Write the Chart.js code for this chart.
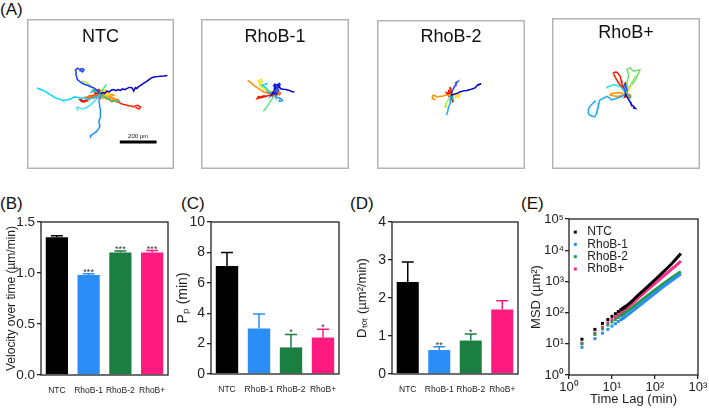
<!DOCTYPE html>
<html>
<head>
<meta charset="utf-8">
<script src="https://cdn.jsdelivr.net/npm/chart.js@4/dist/chart.umd.min.js"></script>
<style>
  body { margin: 0; background: #fff; width: 709px; height: 408px; position: relative; overflow: hidden;
         font-family: "Liberation Sans", Arial, sans-serif; }
  canvas { position: absolute; }
  .lbl { position: absolute; font-size: 17px; line-height: 1; color: #111; }
</style>
</head>
<body>
<div class="lbl" style="left:0;top:1px">(A)</div>
<div class="lbl" style="left:0;top:195px">(B)</div>
<div class="lbl" style="left:181px;top:195px">(C)</div>
<div class="lbl" style="left:350px;top:195px">(D)</div>
<div class="lbl" style="left:521px;top:195px">(E)</div>

<canvas id="ntc" width="147" height="150" style="left:27px;top:19px"></canvas>
<canvas id="rhob1" width="148" height="150" style="left:201px;top:19px"></canvas>
<canvas id="rhob2" width="148" height="149" style="left:377px;top:20px"></canvas>
<canvas id="rhobp" width="148" height="151" style="left:552px;top:18px"></canvas>

<canvas id="chartB" width="172" height="210" style="left:0;top:195px"></canvas>
<canvas id="chartC" width="172" height="210" style="left:172px;top:195px"></canvas>
<canvas id="chartD" width="178" height="210" style="left:344px;top:195px"></canvas>
<canvas id="chartE" width="187" height="213" style="left:522px;top:195px"></canvas>

<script>
// ---------- data ----------
const groups = ["NTC", "RhoB-1", "RhoB-2", "RhoB+"];

// (B) velocity over time, µm/min
const velocity = [1.35, 0.98, 1.20, 1.20];
const velocityErr = [0.015, 0.013, 0.016, 0.02];
const velocitySig = ["", "***", "***", "***"];

// (C) persistence time, min
const persistence = [7.1, 3.0, 1.75, 2.4];
const persistenceErr = [0.9, 0.95, 0.85, 0.55];
const persistenceSig = ["", "", "*", "*"];

// (D) total diffusion, µm²/min
const diffusion = [2.42, 0.63, 0.88, 1.70];
const diffusionErr = [0.53, 0.09, 0.17, 0.23];
const diffusionSig = ["", "**", "*", ""];

// (E) MSD vs time lag
const lagTimes = [2, 4, 6, 8, 10, 12, 14, 16, 18, 20, 25, 30, 40, 50, 60, 80, 100, 125, 150, 200, 250, 300, 350, 400];
const msdNTC   = [14, 29, 45, 60, 76, 92, 108, 123, 138, 152, 195, 240, 360, 470, 590, 850, 1130, 1500, 1900, 2800, 3800, 5000, 6400, 7900];
const msdRhoB1 = [7.7, 14.6, 22, 29, 37, 44, 52, 59, 66, 73, 92, 111, 152, 195, 238, 325, 415, 530, 645, 870, 1090, 1310, 1520, 1730];
const msdRhoB2 = [10, 20, 30, 40, 50, 60, 70, 80, 89, 98, 122, 146, 200, 255, 310, 420, 530, 670, 810, 1070, 1330, 1580, 1820, 2050];
const msdRhoBp = [10.5, 22, 34, 47, 60, 73, 86, 99, 112, 125, 160, 198, 290, 380, 470, 670, 870, 1130, 1400, 1950, 2550, 3150, 3800, 4500];
const logTicksX = [1, 10, 100, 1000];
const logTicksY = [1, 10, 100, 1000, 10000, 100000];

// (A) cell tracks, µm from start point
const ntcTracks = [
  [[0,0],[12,8],[22,4],[35,16],[48,12],[60,22],[71,24],[84,18],[96,24],[108,20],[120,28],[132,24],[143,29],[156,36],[170,35],[176,26],[181,16],[186,26],[190,35],[198,30],[209,42],[222,50],[236,60],[250,68],[264,79],[278,88],[291,93],[309,95],[327,97],[345,98],[364,101]],
  [[-4,4],[-11,11],[-24,24],[-38,35],[-55,40],[-71,48],[-86,52],[-102,60],[-115,70],[-126,79],[-130,94],[-134,108],[-132,120],[-137,130],[-130,137],[-126,141],[-118,136],[-112,135],[-100,139],[-90,134],[-97,121],[-107,128],[-115,126]],
  [[0,-4],[-10,-9],[-20,-13],[-30,-17],[-38,-20],[-55,-24],[-75,-27],[-92,-22],[-112,-22],[-128,-18],[-145,-16],[-160,-26],[-176,-31],[-190,-33],[-203,-38],[-215,-31],[-225,-27],[-238,-24],[-249,-20],[-262,-10],[-276,-2],[-290,8],[-304,16],[-318,22],[-331,27],[-346,33]],
  [[0,-6],[-2,-20],[-6,-32],[-9,-44],[-4,-58],[-5,-71],[0,-85],[2,-99],[-1,-112],[-2,-126],[-6,-140],[-9,-154],[-4,-168],[-5,-181],[-12,-192],[-20,-203],[-29,-210],[-38,-218],[-46,-222],[-53,-227],[-52,-235],[-57,-242]],
  [[0,-10],[-12,-18],[-25,-30],[-38,-44],[-52,-58],[-71,-71],[-86,-78],[-102,-81],[-115,-76],[-126,-71],[-128,-80],[-121,-90]],
  [[0,0],[-10,14],[-24,10],[-36,18],[-48,12],[-40,24],[-28,20]],
  [[0,-6],[18,-12],[35,-22],[53,-35],[70,-38],[90,-40],[108,-44]],
  [[0,2],[6,12],[16,29],[22,40],[31,53],[26,44],[20,35]],
  [[-10,6],[-30,22],[-57,48],[-70,58],[-84,66],[-94,68],[-102,71]],
  [[0,-2],[-2,-7],[12,-12],[26,-16],[30,-6],[35,2],[24,6]],
  [[0,0],[8,8],[4,16],[12,22],[20,16],[26,24],[34,20]],
  [[0,0],[12,6],[24,2],[34,10],[44,4],[52,-6],[40,-12],[28,-8],[20,-20],[30,-28]],
  [[0,-2],[8,-4],[16,-7],[28,-14],[44,-26],[52,-34],[62,-44],[70,-38],[80,-35],[66,-28],[53,-16],[62,-10],[71,-7],[58,-2],[44,-8]],
  [[0,0],[10,-10],[25,-5],[35,-18],[48,-12],[58,-25],[70,-20],[78,-30],[90,-28],[100,-36],[92,-44],[82,-40]],
  [[0,0],[6,-6],[14,-2],[20,-10],[28,-6],[36,-14],[30,-20],[22,-16],[16,-24],[8,-18],[2,-26],[-6,-20]],
  [[0,0],[-15,-8],[-30,-4],[-45,-12],[-60,-8],[-72,-18],[-62,-24],[-50,-20]],
  [[0,-4],[-20,-14],[-40,-10],[-60,-20],[-80,-18],[-70,-28],[-56,-30]],
  [[0,-8],[15,-12],[22,-20],[35,-26],[50,-28],[58,-38],[71,-35],[85,-40],[99,-44],[110,-52],[126,-57],[140,-60],[154,-64],[168,-66],[181,-71],[192,-64],[203,-62],[210,-68],[218,-71],[214,-78],[209,-82],[200,-76],[190,-75]],
  [[0,-2],[-11,-7],[-22,-12],[-38,-20],[-52,-24],[-71,-31],[-84,-35],[-97,-38],[-104,-30],[-112,-31],[-100,-42],[-90,-44],[-78,-38],[-66,-35]],
  [[0,0],[-6,8],[-14,4],[-18,12],[-28,8],[-34,16],[-26,22],[-18,18],[-10,24],[-4,16],[4,20],[10,12]],
  [[0,0],[-8,-10],[-20,-6],[-30,-14],[-42,-8],[-50,-18],[-38,-22],[-26,-18],[-14,-24],[-4,-14],[8,-18],[18,-10],[28,-16],[22,-4]],
  [[0,0],[-15,4],[-29,2],[-20,10],[-11,11],[2,6],[7,-7],[-6,-12],[-20,-16],[-8,-2],[16,5],[10,-4],[-4,8]]
];
const ntcScaleBar = [[105,-262],[305,-262]];

const rhob1Tracks = [
  [[0,0],[-8,10],[-15,2],[-5,20],[4,38],[-4,44],[-2,53],[8,50],[13,46],[22,38],[31,29],[45,26],[59,24],[68,22],[77,20],[90,14],[104,11]],
  [[0,0],[10,10],[6,26],[-4,32],[2,40],[14,30],[20,20],[12,12]],
  [[0,0],[6,18],[14,30],[20,44],[28,52],[22,58],[14,50],[20,40],[30,36]],
  [[0,4],[-16,8],[-33,11],[-42,24],[-51,35],[-62,42],[-70,48],[-56,52],[-42,57]],
  [[0,-4],[4,-16],[18,-20],[31,-26],[36,-30],[40,-35],[34,-38],[27,-40],[24,-30]],
  [[0,-6],[-8,-14],[-15,-26],[-24,-38],[-33,-53],[-42,-66],[-51,-81],[-58,-88],[-64,-95]],
  [[0,2],[-15,10],[-30,18],[-42,20],[-60,30],[-79,42],[-84,56],[-88,71],[-80,78],[-75,79],[-72,70],[-82,57]],
  [[0,0],[-10,4],[-24,-4],[-36,4],[-48,8],[-60,11],[-74,20],[-86,28],[-97,35],[-110,44],[-124,57],[-136,66],[-148,75]],
  [[0,0],[-20,2],[-35,6],[-25,-2],[-5,-4],[12,4]],
  [[0,0],[-12,-4],[-24,-7],[-40,-10],[-60,-16],[-78,-20],[-97,-26],[-90,-14],[-79,-16],[-60,-10],[-42,-13]],
  [[0,0],[8,-6],[16,2],[24,-4],[30,6],[20,12],[10,6],[2,12],[-8,4],[-14,-8]],
  [[0,0],[-10,-2],[4,-8],[-6,-10],[10,2],[-4,6],[6,-4]]
];

const rhob2Tracks = [
  [[0,0],[4,-4],[18,2],[31,5],[48,14],[68,20],[86,22],[104,27],[118,32],[132,38],[140,48],[150,57],[158,58],[163,60],[152,54],[141,51]],
  [[0,0],[4,15],[10,26],[16,38],[22,50],[27,60],[35,70],[28,66],[22,64]],
  [[0,-6],[-2,-22],[-3,-36],[-5,-49],[-10,-62],[-15,-77],[-18,-95],[-24,-113]],
  [[0,-2],[6,-14],[10,-24],[13,-30]],
  [[0,-4],[-9,-22],[-16,-30],[-24,-40],[-28,-54],[-33,-68],[-26,-66],[-20,-64]],
  [[0,0],[4,-4],[18,-2],[31,-4],[40,0],[49,2],[46,-8],[40,-16],[30,-14],[22,-13]],
  [[0,0],[-15,-4],[-28,-2],[-42,-9],[-56,-10],[-70,-13],[-84,-8],[-97,-4],[-100,-12],[-101,-22],[-92,-26],[-82,-27]],
  [[0,2],[-6,20],[-4,32],[2,18],[6,4]],
  [[0,0],[-4,10],[2,18],[-6,26],[0,34],[-8,40]],
  [[0,0],[-8,14],[-15,24],[-10,14],[-5,5],[0,-8],[4,-22],[8,-30],[13,-40],[4,-26],[-9,-13],[-16,-2],[-24,9],[-10,4]]
];

const rhobpTracks = [
  [[0,0],[-4,-7],[6,-20],[15,-35],[22,-46],[27,-57],[34,-64],[42,-71],[46,-76],[51,-81],[44,-80],[38,-75]],
  [[0,0],[-8,20],[-13,38],[-8,48],[-2,42],[4,24],[8,10]],
  [[0,0],[-10,-8],[-22,-16],[-35,-20],[-49,-26],[-62,-30],[-77,-35],[-90,-24],[-104,-16],[-122,-26],[-141,-35],[-146,-52],[-150,-71],[-156,-90],[-159,-108],[-164,-118],[-168,-126],[-182,-124],[-196,-117],[-202,-108],[-205,-99],[-202,-85],[-196,-71],[-184,-58],[-168,-44],[-172,-40]],
  [[0,4],[-14,18],[-31,38],[-50,44],[-68,48],[-82,42],[-95,38],[-100,34],[-104,29]],
  [[0,0],[15,-10],[24,-20],[20,-30]],
  [[0,0],[-4,11],[0,34],[5,57],[10,80],[15,102],[10,116],[5,130],[15,136],[24,139],[32,128],[42,121],[51,124],[60,126],[68,128],[75,130],[64,102],[51,75],[42,60],[33,48]],
  [[0,4],[10,28],[22,44],[34,62],[42,78],[50,90],[58,98]],
  [[0,0],[8,10],[15,24],[22,38],[26,44]],
  [[0,0],[-13,-7],[-28,-12],[-49,-16],[-68,-12],[-86,-7],[-78,0],[-68,2],[-50,4],[-31,5],[-14,0]],
  [[0,0],[10,-8],[18,-4],[26,-14],[18,-22],[8,-16]],
  [[0,0],[-13,20],[-26,38],[-40,57],[-50,74],[-59,90],[-64,100],[-68,112],[-58,116],[-49,115],[-40,104],[-31,93],[-26,70],[-22,48],[-12,30]],
  [[0,0],[6,10],[-2,18],[4,28],[-4,36],[2,46],[-6,54],[0,62]],
  [[0,0],[-8,-20],[6,-14],[-4,6],[10,-4]]
];

// ---------- styles ----------
Chart.defaults.font.family = '"Liberation Sans", Arial, sans-serif';
Chart.defaults.color = "#222";
Chart.defaults.animation = false;

const barColors = ["#000000", "#2a8df8", "#1a7f41", "#ff1a7f"];
const ntcColors = ["#0000c8", "#1f3fff", "#00d8ff", "#1e8fff", "#40e0ff", "#20c0a0", "#20c0a0", "#40f080", "#a8e84a", "#ffd800", "#ffe000", "#ffc000", "#ff9a00", "#ff8000", "#ffa000", "#ff5a00", "#ff6a00", "#ff2000", "#ee1100", "#e00000", "#ff3000", "#dd0000"];
const rhob1Colors = ["#0000c8", "#2050ff", "#1030e0", "#00d0ff", "#1e90ff", "#5ae87a", "#ffe000", "#ff8c00", "#000090", "#ff1a00", "#ff5000", "#e00000"];
const rhob2Colors = ["#0000c8", "#2040ff", "#18a8ff", "#30c060", "#b0f040", "#ffe000", "#ff9000", "#ff3000", "#ff1000", "#ee0000"];
const rhobpColors = ["#0000cd", "#2050ff", "#1ea8ff", "#20e0e0", "#30b890", "#6ee06e", "#90f060", "#ffd800", "#ff9000", "#ff7000", "#ff1a00", "#ee0000", "#e00000"];

// box + title inside the track panels
const panelFrame = {
  id: "panelFrame",
  afterDraw(chart, args, opts) {
    const { ctx, chartArea: a } = chart;
    ctx.save();
    ctx.strokeStyle = "#b4b4b4";
    ctx.lineWidth = 1.5;
    ctx.strokeRect(a.left + 0.75, a.top + 0.75, a.width - 1.5, a.height - 1.5);
    ctx.fillStyle = "#111";
    ctx.font = '18px "Liberation Sans", Arial, sans-serif';
    ctx.textAlign = "center";
    ctx.fillText(opts.title, (a.left + a.right) / 2, a.top + opts.titleY);
    if (opts.barLabel) {
      const x = chart.scales.x, y = chart.scales.y;
      ctx.font = '6px "Liberation Sans", Arial, sans-serif';
      ctx.fillText(opts.barLabel, x.getPixelForValue(205), y.getPixelForValue(-262) - 4);
    }
    ctx.restore();
  }
};

function trackChart(id, tracks, colors, title, titleY, extra) {
  const datasets = tracks.map((t, i) => ({
    data: t.map(p => ({ x: p[0], y: p[1] })),
    borderColor: colors[i],
    borderWidth: 1.5,
    showLine: true,
    pointRadius: 0,
    tension: 0
  }));
  if (extra && extra.bar) {
    datasets.push({
      data: extra.bar.map(p => ({ x: p[0], y: p[1] })),
      borderColor: "#000", borderWidth: 3, showLine: true, pointRadius: 0
    });
  }
  return new Chart(document.getElementById(id), {
    type: "scatter",
    data: { datasets },
    options: {
      responsive: false,
      layout: { padding: 0 },
      plugins: {
        legend: { display: false },
        tooltip: { enabled: false },
        panelFrame: { title, titleY, barLabel: extra && extra.bar ? "200 µm" : null }
      },
      scales: {
        x: { display: false, min: -400, max: 400 },
        y: { display: false, min: -410, max: 410 }
      }
    },
    plugins: [panelFrame]
  });
}

trackChart("ntc", ntcTracks, ntcColors, "NTC", 23, { bar: ntcScaleBar });
trackChart("rhob1", rhob1Tracks, rhob1Colors, "RhoB-1", 23);
trackChart("rhob2", rhob2Tracks, rhob2Colors, "RhoB-2", 22);
trackChart("rhobp", rhobpTracks, rhobpColors, "RhoB+", 20);

// full box around the plot area
const frame = {
  id: "frame",
  afterDraw(chart) {
    const { ctx, chartArea: a } = chart;
    ctx.save();
    ctx.strokeStyle = "#222";
    ctx.lineWidth = 1.3;
    ctx.strokeRect(a.left, a.top, a.width, a.height);
    ctx.restore();
  }
};

// upward error bars + significance stars
const errorBars = {
  id: "errorBars",
  afterDatasetsDraw(chart, args, opts) {
    const { ctx } = chart;
    const meta = chart.getDatasetMeta(0);
    const ys = chart.scales.y;
    const values = chart.data.datasets[0].data;
    meta.data.forEach((bar, i) => {
      const top = ys.getPixelForValue(values[i]);
      const cap = ys.getPixelForValue(values[i] + opts.errors[i]);
      ctx.save();
      ctx.strokeStyle = barColors[i];
      ctx.lineWidth = 1.5;
      ctx.beginPath();
      ctx.moveTo(bar.x, top);
      ctx.lineTo(bar.x, cap);
      ctx.moveTo(bar.x - 6, cap);
      ctx.lineTo(bar.x + 6, cap);
      ctx.stroke();
      if (opts.stars[i]) {
        ctx.fillStyle = "#333";
        ctx.font = '9px "Liberation Sans", Arial, sans-serif';
        ctx.textAlign = "center";
        ctx.textBaseline = "alphabetic";
        ctx.fillText(opts.stars[i], bar.x, cap + 1);
      }
      ctx.restore();
    });
  }
};

function barChart(id, values, errors, stars, o) {
  return new Chart(document.getElementById(id), {
    type: "bar",
    data: {
      labels: groups,
      datasets: [{ data: values, backgroundColor: barColors, categoryPercentage: 1, barPercentage: 0.7 }]
    },
    options: {
      responsive: false,
      layout: { padding: { top: o.padTop, right: o.padRight, left: 0, bottom: 0 } },
      plugins: {
        legend: { display: false },
        tooltip: { enabled: false },
        errorBars: { errors, stars }
      },
      scales: {
        x: {
          grid: { display: false },
          border: { display: false },
          ticks: { font: { size: 8.5 }, padding: 3, maxRotation: 0, autoSkip: false, color: "#222" },
          afterFit: s => { s.height = o.xHeight; }
        },
        y: {
          min: 0, max: o.max,
          ticks: { stepSize: o.step, font: { size: o.tickSize }, padding: 2, color: "#222", callback: o.fmt },
          grid: { drawOnChartArea: false, tickLength: 4, color: "#222", lineWidth: 1.3 },
          border: { display: false },
          title: { display: true, text: o.title, font: { size: o.titleSize }, color: "#222", padding: { top: o.titlePad, bottom: 0 } },
          afterFit: s => { s.width = o.yWidth; }
        }
      }
    },
    plugins: [errorBars, frame]
  });
}

barChart("chartB", velocity, velocityErr, velocitySig, {
  padTop: 27, padRight: 4, xHeight: 30, yWidth: 41, max: 1.5, step: 0.5, tickSize: 13.5,
  fmt: v => v.toFixed(1), title: "Velocity over time (µm/min)", titleSize: 12, titlePad: 4.8
});
barChart("chartC", persistence, persistenceErr, persistenceSig, {
  padTop: 27, padRight: 5, xHeight: 31, yWidth: 39, max: 10, step: 2, tickSize: 14,
  fmt: v => v, title: "Pₚ (min)", titleSize: 14, titlePad: 2.6
});
barChart("chartD", diffusion, diffusionErr, diffusionSig, {
  padTop: 27, padRight: 4, xHeight: 31, yWidth: 48, max: 4, step: 1, tickSize: 14,
  fmt: v => v, title: "Dₜₒₜ (µm²/min)", titleSize: 13, titlePad: 11
});

// ---------- (E) MSD ----------
const sup = ["⁰", "¹", "²", "³", "⁴", "⁵"];
const powerLabel = v => "10" + sup[Math.round(Math.log10(v))];

function msdSet(label, values, color) {
  return {
    label,
    data: lagTimes.map((t, i) => ({ x: t, y: values[i] })),
    backgroundColor: color,
    borderColor: color,
    borderWidth: 3,
    showLine: true,
    pointStyle: "rect",
    pointRadius: ctx => (lagTimes[ctx.dataIndex] <= 20 ? 2.1 : 0),
    pointBorderWidth: 0,
    segment: { borderColor: ctx => (ctx.p0.parsed.x >= 16 ? undefined : "rgba(0,0,0,0)") }
  };
}

new Chart(document.getElementById("chartE"), {
  type: "scatter",
  data: {
    datasets: [
      msdSet("NTC", msdNTC, "#000000"),
      msdSet("RhoB-1", msdRhoB1, "#2a8df8"),
      msdSet("RhoB-2", msdRhoB2, "#1f9a4e"),
      msdSet("RhoB+", msdRhoBp, "#ff2a85")
    ]
  },
  options: {
    responsive: false,
    layout: { padding: { top: 24, right: 11, left: 0, bottom: 0 } },
    plugins: {
      tooltip: { enabled: false },
      legend: {
        position: "chartArea",
        align: "start",
        title: { display: true, text: "", font: { size: 4 }, padding: { top: 26, bottom: 0 } },
        labels: {
          usePointStyle: true, pointStyle: "rect", boxWidth: 12, boxHeight: 3,
          padding: 0.3, font: { size: 12 }, color: "#222"
        }
      }
    },
    scales: {
      x: {
        type: "logarithmic", min: 1, max: 1000,
        afterBuildTicks: s => { s.ticks = logTicksX.map(v => ({ value: v })); },
        ticks: { callback: powerLabel, font: { size: 13 }, padding: 1, maxRotation: 0, autoSkip: false, color: "#222" },
        grid: { drawOnChartArea: false, tickLength: 4, color: "#222", lineWidth: 1.3 },
        border: { display: false },
        title: { display: true, text: "Time Lag (min)", font: { size: 13 }, color: "#222", padding: { top: 0, bottom: 1.2 } },
        afterFit: s => { s.height = 33; }
      },
      y: {
        type: "logarithmic", min: 1, max: 100000,
        afterBuildTicks: s => { s.ticks = logTicksY.map(v => ({ value: v })); },
        ticks: { callback: powerLabel, font: { size: 13 }, padding: 1, autoSkip: false, color: "#222" },
        grid: { drawOnChartArea: false, tickLength: 4, color: "#222", lineWidth: 1.3 },
        border: { display: false },
        title: { display: true, text: "MSD (µm²)", font: { size: 13 }, color: "#222", padding: { top: 6.2, bottom: 0 } },
        afterFit: s => { s.width = 47; }
      }
    }
  },
  plugins: [frame]
});
</script>
</body>
</html>
